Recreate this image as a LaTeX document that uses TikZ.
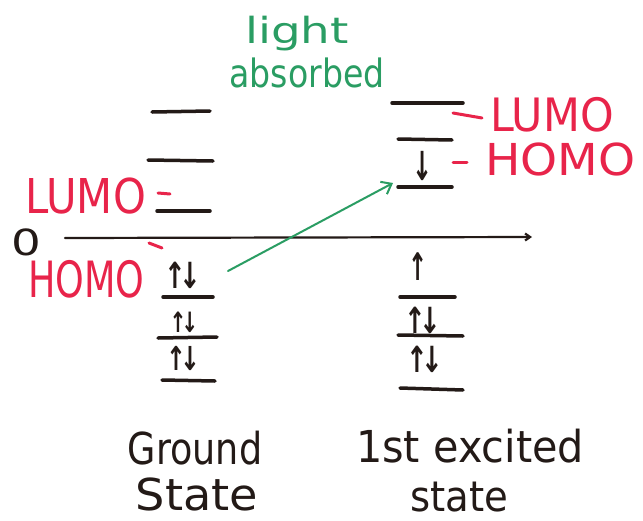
\documentclass[tikz,border=0pt]{standalone}
\usepackage{fontspec}
\setmainfont{DejaVu Sans}
\usetikzlibrary{arrows.meta}
\definecolor{ink}{HTML}{231A17}
\definecolor{redink}{HTML}{E8244A}
\definecolor{greenink}{HTML}{2A9D63}
\newcommand{\handtxt}[3]{\scalebox{#1}[1]{\fontsize{#2}{#2}\selectfont #3}}
\newcommand{\updown}{↑\kern-0.25em↓}
\begin{document}
\begin{tikzpicture}[x=1pt,y=-1pt,
  lvl/.style={draw=ink,line width=3.5pt,line cap=round},
  lbl/.style={inner sep=0pt,anchor=base},
  redlbl/.style={lbl,text=redink},
  grnlbl/.style={lbl,text=greenink},
  inklbl/.style={lbl,text=ink},
  spin/.style={lbl,text=ink,font=\bfseries},
  reddash/.style={draw=redink,line width=3pt,line cap=round},
  axisline/.style={draw=ink,line width=2.2pt,line cap=round,-{Straight Barb[length=5pt,width=7pt]}},
  lightarrow/.style={draw=greenink,line width=2pt,line cap=round,-{Straight Barb[length=9pt,width=14pt]}}]
\fill[white] (0,0) rectangle (643,520);
\useasboundingbox (0,0) rectangle (643,520);

% title
\node[grnlbl] (light) at (297,43) {\handtxt{1.3}{36}{light}};
\node[grnlbl] (absorbed) at (307,87) {\handtxt{0.85}{39}{absorbed}};

% axis and zero
\node[inklbl] (zero) at (26,255) {\handtxt{1.3}{36}{0}};
\coordinate (axL) at (65,238);
\coordinate (axR) at (532,237);
\draw[axisline] (axL) -- (axR);

% ground state levels
\draw[lvl] (152,112) -- (210,111);
\draw[lvl] (148,160) -- (213,161);
\draw[lvl] (157,211) -- (210,211);
\draw[lvl] (163,297) -- (213,297);
\draw[lvl] (158,338) -- (217,337);
\draw[lvl] (162,380) -- (215,381);

% excited state levels
\draw[lvl] (392,103) -- (463,103);
\draw[lvl] (398,139) -- (452,140);
\draw[lvl] (398,187) -- (452,187);
\draw[lvl] (400,297) -- (455,297);
\draw[lvl] (398,335) -- (463,336);
\draw[lvl] (400,388) -- (463,390);

% electrons, ground state
\node[spin] (gE1) at (183,288) {\handtxt{0.72}{36}{\updown}};
\node[spin] (gE2) at (184,332) {\handtxt{0.72}{28}{\updown}};
\node[spin] (gE3) at (183,370) {\handtxt{0.72}{33}{\updown}};

% electrons, excited state
\node[spin] (xEd) at (423,180) {\handtxt{0.6}{40}{↓}};
\node[spin] (xEu) at (418,280) {\handtxt{0.6}{38}{↑}};
\node[spin] (xE2) at (423,333) {\handtxt{0.72}{36}{\updown}};
\node[spin] (xE3) at (425,372) {\handtxt{0.72}{36}{\updown}};

% red labels, ground state
\node[redlbl,anchor=base west] (gLumo) at (25,213) {\handtxt{0.87}{48}{LUMO}};
\node[redlbl,anchor=base west] (gHomo) at (28,297) {\handtxt{0.73}{50}{HOMO}};
\draw[reddash] (158,193) -- (170,194);
\draw[reddash] (149,243) -- (162,248);

% red labels, excited state
\node[redlbl,anchor=base west] (xLumo) at (490,131) {\handtxt{0.93}{46}{LUMO}};
\node[redlbl,anchor=base west] (xHomo) at (485,175) {\handtxt{1.07}{44}{HOMO}};
\draw[reddash] (453,113) -- (482,118);
\draw[reddash] (453,162) -- (467,162);

% light absorption arrow
\coordinate (gstart) at (228,271);
\coordinate (xend) at (393,183);
\draw[lightarrow] (gstart) -- (xend);

% bottom captions
\node[inklbl] (ground) at (195,464) {\handtxt{0.83}{44}{Ground}};
\node[inklbl] (gstate) at (197,510) {\handtxt{1.05}{44}{State}};
\node[inklbl] (excited) at (470,462) {\handtxt{0.94}{44}{1st excited}};
\node[inklbl] (xstate) at (459,511) {\handtxt{0.92}{42}{state}};
\end{tikzpicture}
\end{document}
